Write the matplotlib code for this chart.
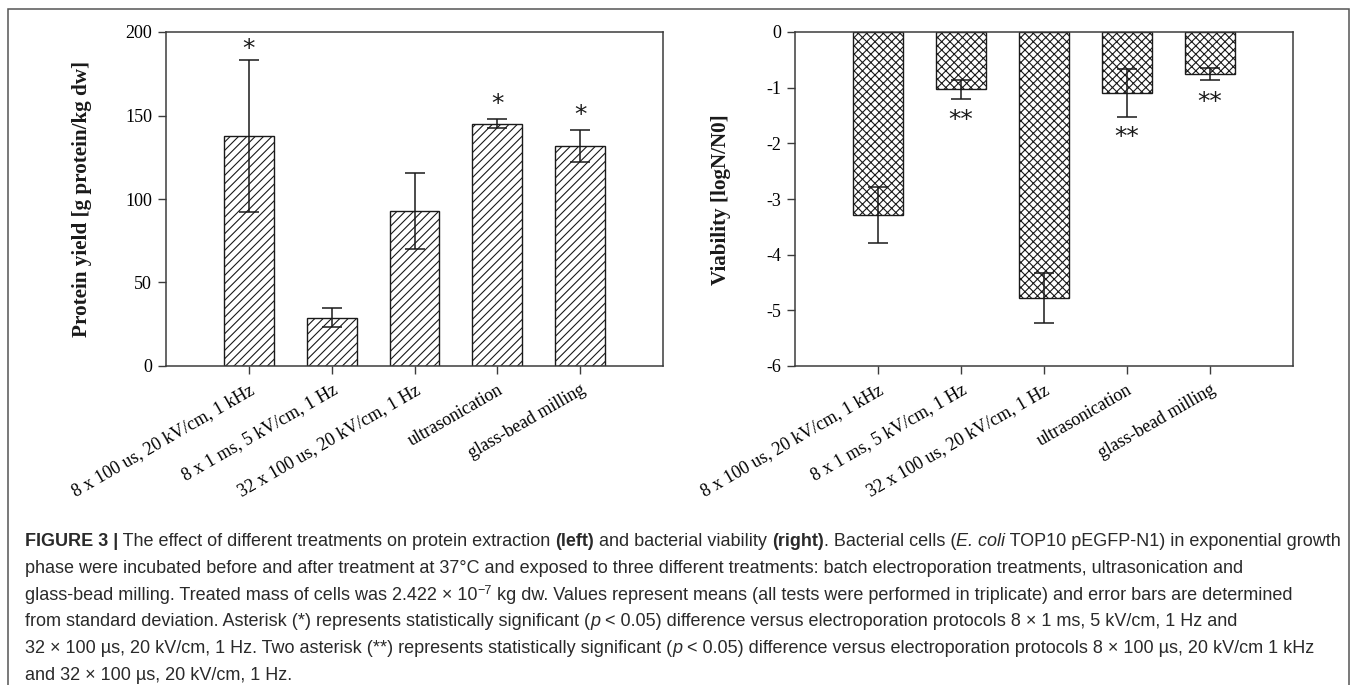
import matplotlib
matplotlib.use("Agg")
from matplotlib import pyplot as plt
from matplotlib.patches import Rectangle
from matplotlib.font_manager import FontProperties
import numpy as np

# Treatments (x categories, same for both panels)
treatments = ["8 x 100 us, 20 kV/cm, 1 kHz", "8 x 1 ms, 5 kV/cm, 1 Hz",
              "32 x 100 us, 20 kV/cm, 1 Hz", "ultrasonication", "glass-bead milling"]

# Left panel: protein yield [g protein/kg dw]
protein = [138, 29, 93, 145, 132]
protein_sd = [45.5, 5.7, 22.8, 2.7, 9.6]
protein_sig = ["*", "", "", "*", "*"]
protein_sig_y = [197, 0, 0, 164, 157.5]
protein_ticks = [0, 50, 100, 150, 200]

# Right panel: viability [logN/N0]
viability = [-3.29, -1.03, -4.78, -1.09, -0.75]
viability_sd = [0.50, 0.17, 0.45, 0.43, 0.11]
viability_sig = ["", "**", "", "**", "**"]
viability_sig_y = [0, -1.37, 0, -1.67, -1.05]
viability_ticks = [-6, -5, -4, -3, -2, -1, 0]

W, H = 1357, 685
SERIF = "Liberation Serif"
CAPTION_FONT = ["Liberation Sans Narrow", "Liberation Sans", "DejaVu Sans"]
SPINE = "#3c3c3c"
INK = "#1a1a1a"

plt.rcParams["axes.unicode_minus"] = False
plt.rcParams["hatch.linewidth"] = 0.8

fig = plt.figure(figsize=(W / 100, H / 100), dpi=100)

# outer frame of the figure panel
fig.patches.append(Rectangle((8 / W, -0.05), 1341 / W, 1.05 - 8.5 / H,
                             transform=fig.transFigure, fill=False,
                             edgecolor="#555555", linewidth=1.1))


def style_axes(ax, ticks):
    ax.set_xlim(-1.0, 5.0)
    ax.set_yticks(ticks)
    ax.set_yticklabels([str(t) for t in ticks], fontfamily=SERIF, fontsize=13)
    ax.set_xticks(np.arange(len(treatments)))
    ax.set_xticklabels(treatments, fontfamily=SERIF, fontsize=13, rotation=30,
                       ha="right", rotation_mode="anchor")
    ax.tick_params(direction="out", length=6, width=1.0, color=SPINE, pad=4)
    ax.tick_params(axis="x", pad=5)
    for s in ax.spines.values():
        s.set_color(SPINE)
        s.set_linewidth(1.1)


x = np.arange(len(treatments))

# Left: protein yield
ax1 = fig.add_axes([166 / W, 1 - 366 / H, 497 / W, 334 / H])
ax1.bar(x, protein, width=0.6, color="white", edgecolor=INK,
        hatch="////", linewidth=1.0, zorder=2)
ax1.errorbar(x, protein, yerr=protein_sd, fmt="none", ecolor=INK,
             elinewidth=1.1, capsize=7, capthick=1.1, zorder=3)
ax1.set_ylim(0, 200)
style_axes(ax1, protein_ticks)
for xi, s, sy in zip(x, protein_sig, protein_sig_y):
    if s:
        ax1.text(xi, sy, s, ha="center", va="top", fontsize=18,
                 fontfamily="DejaVu Sans", color=INK)
fig.text(82 / W, 1 - 199 / H, "Protein yield [g protein/kg dw]", rotation=90,
         ha="center", va="center", fontfamily=SERIF, fontweight="bold",
         fontsize=15.2, color=INK)

# Right: viability
ax2 = fig.add_axes([795 / W, 1 - 366 / H, 498 / W, 334 / H])
ax2.bar(x, viability, width=0.6, color="white", edgecolor=INK,
        hatch="xxxx", linewidth=1.0, zorder=2)
ax2.errorbar(x, viability, yerr=viability_sd, fmt="none", ecolor=INK,
             elinewidth=1.1, capsize=7, capthick=1.1, zorder=3)
ax2.set_ylim(-6, 0)
style_axes(ax2, viability_ticks)
for xi, s, sy in zip(x, viability_sig, viability_sig_y):
    if s:
        ax2.text(xi, sy, s, ha="center", va="top", fontsize=18,
                 fontfamily="DejaVu Sans", color=INK)
fig.text(721 / W, 1 - 200 / H, "Viability [logN/N0]", rotation=90,
         ha="center", va="center", fontfamily=SERIF, fontweight="bold",
         fontsize=15.2, color=INK)

# Caption, drawn run by run so bold / italic parts sit inline
N, B, I, S = "normal", "bold", "italic", "sup"
caption = [
    [("FIGURE 3 |", B), (" The effect of different treatments on protein extraction ", N),
     ("(left)", B), (" and bacterial viability ", N), ("(right)", B),
     (". Bacterial cells (", N), ("E. coli", I), (" TOP10 pEGFP-N1) in exponential growth", N)],
    [("phase were incubated before and after treatment at 37\u00b0C and exposed to three "
      "different treatments: batch electroporation treatments, ultrasonication and", N)],
    [("glass-bead milling. Treated mass of cells was 2.422 \u00d7 10", N), ("\u22127", S),
     (" kg dw. Values represent means (all tests were performed in triplicate) and error "
      "bars are determined", N)],
    [("from standard deviation. Asterisk (*) represents statistically significant (", N),
     ("p", I), (" < 0.05) difference versus electroporation protocols 8 \u00d7 1 ms, "
                "5 kV/cm, 1 Hz and", N)],
    [("32 \u00d7 100 \u00b5s, 20 kV/cm, 1 Hz. Two asterisk (**) represents statistically "
      "significant (", N), ("p", I),
     (" < 0.05) difference versus electroporation protocols 8 \u00d7 100 \u00b5s, "
      "20 kV/cm 1 kHz", N)],
    [("and 32 \u00d7 100 \u00b5s, 20 kV/cm, 1 Hz.", N)],
]

renderer = fig.canvas.get_renderer()


def run_props(kind, size):
    fp = FontProperties(family=CAPTION_FONT, size=size * (0.7 if kind == S else 1))
    if kind == B:
        fp.set_weight("bold")
    if kind == I:
        fp.set_style("italic")
    return fp


def advance(s, fp):
    w1 = renderer.get_text_width_height_descent("|" + s + "|", fp, ismath=False)[0]
    w0 = renderer.get_text_width_height_descent("||", fp, ismath=False)[0]
    return w1 - w0


# the first caption line spans the full text width (x 25..1338 px)
line1 = sum(advance(t, run_props(k, 11)) for t, k in caption[0])
cap_size = 11 * 1313 / line1

for i, line in enumerate(caption):
    px = 25.0
    base = 546 + i * 26.8
    for txt, kind in line:
        fp = run_props(kind, cap_size)
        y = base - (6 if kind == S else 0)
        fig.text(px / W, 1 - y / H, txt, fontproperties=fp, ha="left",
                 va="baseline", color="#2a2a2a")
        px += advance(txt, fp)

fig.savefig("out.png", dpi=100)
